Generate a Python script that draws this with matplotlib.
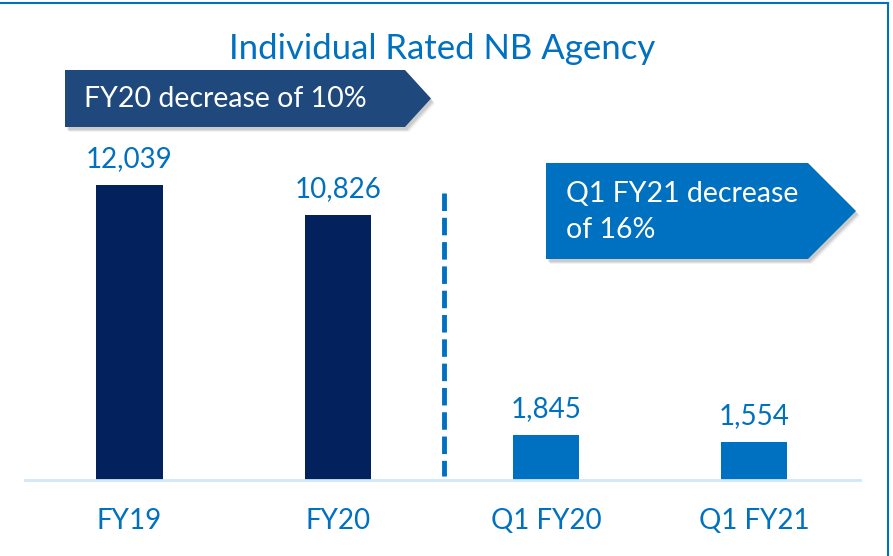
import matplotlib
matplotlib.use("Agg")
import matplotlib.pyplot as plt
from matplotlib.patches import Polygon

# Data
categories = ["FY19", "FY20", "Q1 FY20", "Q1 FY21"]
values = [12039, 10826, 1845, 1554]
value_labels = ["12,039", "10,826", "1,845", "1,554"]
title = "Individual Rated NB Agency"
callout_fy = "FY20 decrease of 10%"
callout_q1 = "Q1 FY21 decrease\nof 16%"

W, H = 893, 556
NAVY = "#03215c"
BLUE = "#0070c0"
DARK_ARROW = "#1f497d"
BASE = "#cfe8fa"

plt.rcParams["font.family"] = ["Lato", "DejaVu Sans"]

fig = plt.figure(figsize=(W / 100, H / 100), dpi=100)
ax = fig.add_axes([0, 0, 1, 1])
ax.set_axis_off()

# pixel layout helpers
x0_px, step_px = 129.5, 208.3
base_px = 480
k = 295 / 12039  # pixels per unit
ax.set_xlim(-x0_px / step_px, (W - x0_px) / step_px)
ax.set_ylim(-(H - base_px) / k, base_px / k)


def fx(px):
    return px / W


def fy(py):
    return 1 - py / H


bar_colors = [NAVY, NAVY, BLUE, BLUE]
xs = list(range(len(categories)))
ax.bar(xs, values, width=0.317, color=bar_colors, zorder=3)

for x, v, lab in zip(xs, values, value_labels):
    ax.annotate(lab, (x, v), xytext=(0, 13), textcoords="offset pixels",
                ha="center", va="bottom", color=BLUE, fontsize=20)

# category labels below the baseline
lab_tr = ax.get_xaxis_transform()
for x, c in zip(xs, categories):
    ax.text(x, fy(521), c, transform=lab_tr,
            ha="center", va="center", color=BLUE, fontsize=20)

# baseline
fig.add_artist(plt.Line2D([fx(25), fx(860)], [fy(480), fy(480)],
                          color=BASE, lw=2, zorder=1))

# divider between annual and quarterly figures
fig.add_artist(plt.Line2D([fx(444), fx(444)], [fy(193), fy(476)],
                          color=BLUE, lw=3.5, linestyle=(0, (3.6, 1.4))))

# title
fig.text(fx(442), fy(49), title, ha="center", va="center", color=BLUE, fontsize=25)

# frame edges
fig.add_artist(plt.Line2D([0, fx(888)], [fy(3), fy(3)], color=BLUE, lw=1.5))
fig.add_artist(plt.Line2D([fx(888), fx(888)], [fy(3), 0], color=BLUE, lw=1.5))


def arrow(x1, x2, xt, y1, y2, color):
    ym = (y1 + y2) / 2
    pts = [(x1, y1), (x2, y1), (xt, ym), (x2, y2), (x1, y2)]
    for off, a in ((5, 0.05), (4, 0.07), (3, 0.09)):
        sh = Polygon([(fx(p + off - 1), fy(q + off)) for p, q in pts], closed=True,
                     transform=fig.transFigure, color="#000000", alpha=a, lw=0)
        fig.add_artist(sh)
    p = Polygon([(fx(a), fy(b)) for a, b in pts], closed=True,
                transform=fig.transFigure, color=color, lw=0)
    fig.add_artist(p)


arrow(65, 405, 431, 70, 127, DARK_ARROW)
fig.text(fx(84), fy(99), callout_fy, ha="left", va="center", color="white", fontsize=20.5)

arrow(546, 808, 856, 163, 259, BLUE)
fig.text(fx(566), fy(212), callout_q1, ha="left", va="center", color="white",
         fontsize=20.5, linespacing=1.45)

fig.savefig("out.png", dpi=100)
